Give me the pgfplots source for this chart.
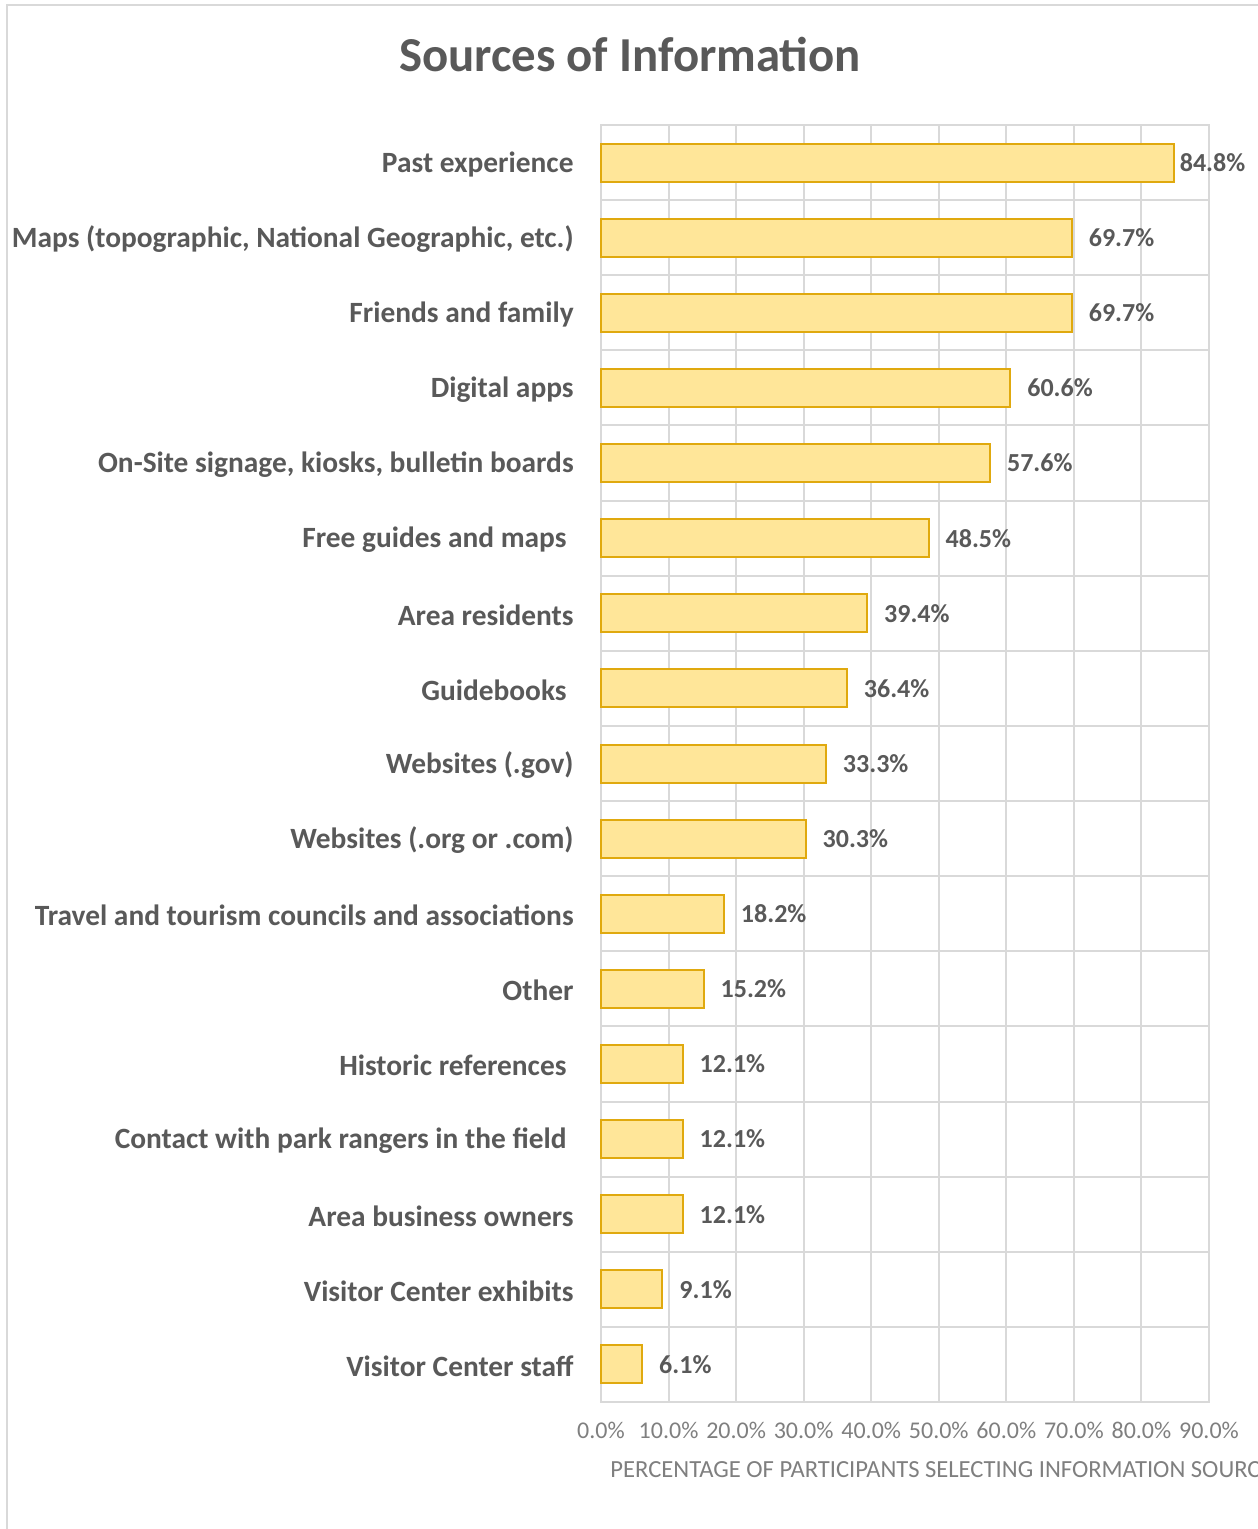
\documentclass[border=0pt]{standalone}
\usepackage{pgfplots}
\pgfplotsset{compat=1.18}
\usepackage{fontspec}
\setmainfont{Carlito}
\definecolor{txt}{HTML}{595959}
\definecolor{tickc}{HTML}{7F7F7F}
\definecolor{gridc}{HTML}{D9D9D9}
\definecolor{barfill}{HTML}{FFE699}
\definecolor{baredge}{HTML}{E0A90E}
\begin{document}
\begin{tikzpicture}
\useasboundingbox (0,0) rectangle (629bp,764.5bp);
\clip (0,0) rectangle (629bp,764.5bp);
\draw[gridc, line width=1bp] (3.5bp,-10bp) rectangle (700bp,762bp);
\node[text=txt, font=\fontsize{24.4bp}{28bp}\selectfont\bfseries] at (315bp,737bp) {Sources of Information};
\begin{axis}[
 at={(300.5bp,63.5bp)}, anchor=south west,
 width=304bp, height=638.5bp, scale only axis,
 xmin=0, xmax=90, xtick={0,10,...,90},
 ymin=-0.5, ymax=16.5, y dir=reverse,
 ytick={0,...,16},
 yticklabels={
  Past experience,
  {Maps (topographic, National Geographic, etc.)},
  Friends and family,
  Digital apps,
  {On-Site signage, kiosks, bulletin boards},
  Free guides and maps\hspace*{3.5bp},
  Area residents,
  Guidebooks\hspace*{3.5bp},
  Websites (.gov),
  Websites (.org or .com),
  Travel and tourism councils and associations,
  Other,
  Historic references\hspace*{3.5bp},
  Contact with park rangers in the field\hspace*{3.5bp},
  Area business owners,
  Visitor Center exhibits,
  Visitor Center staff},
 minor ytick={-0.5,0.5,...,16.5},
 xmajorgrids=true, ymajorgrids=false, yminorgrids=true,
 grid style={gridc, line width=1bp},
 minor grid style={gridc, line width=1bp},
 axis line style={gridc, line width=1bp},
 major tick length=0pt, minor tick length=0pt,
 yticklabel style={font=\fontsize{14.7bp}{17bp}\selectfont\bfseries, text=txt, inner sep=0pt, xshift=-13.5bp, yshift=-0.8bp},
 xticklabel style={font=\fontsize{12bp}{14bp}\selectfont, text=tickc, inner sep=0pt, yshift=-10bp},
 /pgf/number format/assume math mode=true,
 xticklabel={\pgfmathprintnumber[fixed,fixed zerofill,precision=1]{\tick}\%},
 xlabel={PERCENTAGE OF PARTICIPANTS SELECTING INFORMATION SOURCE},
 xlabel style={at={(axis description cs:0,0)}, anchor=west, inner sep=0pt, xshift=4.5bp, yshift=-34bp, font=\fontsize{12.3bp}{14bp}\selectfont, text=tickc},
 clip=false,
]
\addplot[xbar, bar shift=0pt, bar width=19bp, fill=barfill, draw=baredge, line width=1bp,
  point meta=x, nodes near coords={\pgfmathprintnumber[fixed,fixed zerofill,precision=1]{\pgfplotspointmeta}\%},
  every node near coord/.append style={anchor=west, inner sep=0pt, xshift=2.5bp, font=\fontsize{13bp}{15bp}\selectfont\bfseries, text=txt}]
 coordinates {(84.8,0)};
\addplot[xbar, bar shift=0pt, bar width=19bp, fill=barfill, draw=baredge, line width=1bp,
  point meta=x, nodes near coords={\pgfmathprintnumber[fixed,fixed zerofill,precision=1]{\pgfplotspointmeta}\%},
  every node near coord/.append style={anchor=west, inner sep=0pt, xshift=8bp, font=\fontsize{13bp}{15bp}\selectfont\bfseries, text=txt}]
 coordinates {(69.7,1) (69.7,2) (60.6,3) (57.6,4) (48.5,5) (39.4,6) (36.4,7) (33.3,8) (30.3,9) (18.2,10) (15.2,11) (12.1,12) (12.1,13) (12.1,14) (9.1,15) (6.1,16)};
\end{axis}
\end{tikzpicture}
\end{document}
